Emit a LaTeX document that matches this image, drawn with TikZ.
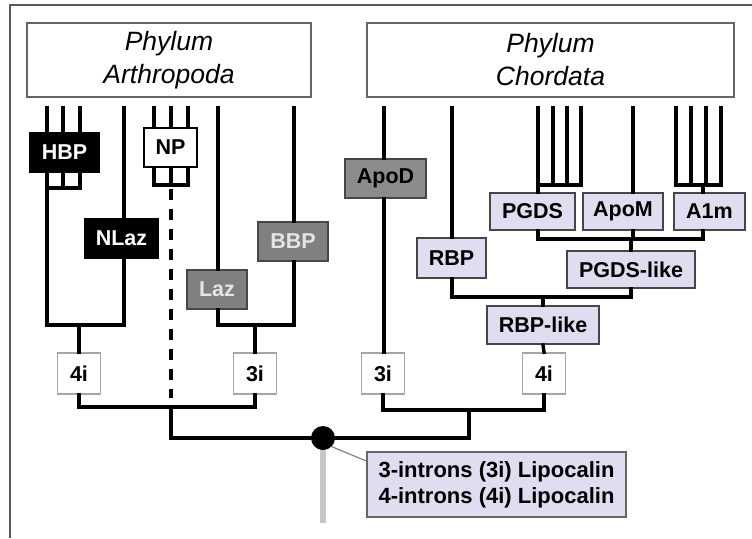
\documentclass[tikz,border=0pt]{standalone}
\usepackage{fontspec}
\setmainfont{Liberation Sans}
\usetikzlibrary{calc}
\definecolor{lav}{RGB}{222,222,240}
\definecolor{midgray}{RGB}{128,128,128}
\definecolor{apod}{RGB}{140,140,140}
\definecolor{bordergray}{RGB}{70,70,70}
\tikzset{
  lbl/.style={font=\fontsize{21.5}{24}\selectfont\bfseries, inner sep=0pt, line width=2.2pt},
  blackbox/.style={lbl, draw=black, fill=black, text=white},
  whitebox/.style={lbl, draw=black, fill=white, text=black},
  graybox/.style={lbl, draw=bordergray, fill=midgray, text=white!90!black},
  apodbox/.style={lbl, draw=bordergray, fill=apod, text=black},
  lavbox/.style={lbl, draw=bordergray, fill=lav, text=black},
  intronbox/.style={lbl, draw=gray!70, line width=1.5pt, fill=white, text=black, minimum width=43, minimum height=41},
  phylum/.style={draw=gray!80!black, line width=1.2pt, fill=white, align=center, font=\fontsize{26.5}{33}\selectfont\itshape, inner sep=0pt},
  branch/.style={line width=3.4pt, line cap=rect},
  dashbranch/.style={line width=3.4pt, dash pattern=on 11pt off 9pt},
}
\begin{document}
\begin{tikzpicture}[x=1pt,y=-1pt]
\useasboundingbox (0,0) rectangle (752,538);
% frame
\draw[line width=2pt, gray!70!black] (10,538) -- (10,5) -- (752,5);

% phylum boxes
\node[phylum, minimum width=284, minimum height=74] (arth) at (169,60) {Phylum\\Arthropoda};
\node[phylum, minimum width=367, minimum height=74] (chord) at (550.5,60) {Phylum\\Chordata};

% tips (top ends)
\foreach \n/\x in {h1/47,h2/63,h3/80,nl/124,n1/154,n2/171,n3/188,lz/218,bb/294,ad/384,rb/452,p1/538,p2/553,p3/567,p4/581,am/633,a1/676,a2/691,a3/706,a4/721}
  \coordinate (t\n) at (\x,108);

% arthropod boxes
\node[blackbox, minimum width=69, minimum height=39] (hbp) at (64.5,152.5) {HBP};
\node[blackbox, minimum width=73, minimum height=39] (nlaz) at (121.5,238.5) {NLaz};
\node[whitebox, minimum width=53, minimum height=39] (np) at (170.5,147.5) {NP};
\node[graybox, minimum width=60, minimum height=39] (laz) at (217,289.5) {Laz};
\node[graybox, minimum width=70, minimum height=39] (bbp) at (293,241.5) {BBP};
\node[intronbox] (a4i) at (79,373.5) {4i};
\node[intronbox] (a3i) at (255,373.5) {3i};

% chordate boxes
\node[apodbox, minimum width=81, minimum height=39] (apod) at (385.5,178.5) {ApoD};
\node[lavbox, minimum width=69, minimum height=40] (rbp) at (451.5,258) {RBP};
\node[lavbox, minimum width=85, minimum height=37] (pgds) at (532.5,211.5) {PGDS};
\node[lavbox, minimum width=80, minimum height=37] (apom) at (623,211.5) {ApoM};
\node[lavbox, minimum width=71, minimum height=37] (a1m) at (709.5,211.5) {A1m};
\node[lavbox, minimum width=128, minimum height=37] (pgdsl) at (631,269.5) {PGDS-like};
\node[lavbox, minimum width=112, minimum height=38] (rbpl) at (543,325) {RBP-like};
\node[intronbox] (c3i) at (383,373.5) {3i};
\node[intronbox] (c4i) at (544,373.5) {4i};

% root
\draw[line width=6pt, gray!45] (323,440) -- (323,523);
\node[circle, fill=black, minimum size=24, inner sep=0pt] (root) at (323,438) {};
\node[lbl, draw=gray!80!black, line width=1.5pt, fill=lav, minimum width=259, minimum height=65, align=left, font=\fontsize{22}{26}\selectfont\bfseries] (leg) at (496.5,484.5) {3-introns (3i) Lipocalin\\4-introns (4i) Lipocalin};
\draw[line width=1.2pt, gray] (root.south east) -- (leg.west |- 0,461);

% --- Arthropoda branches ---
\foreach \n in {h1,h2,h3} \draw[branch] (t\n) -- (t\n |- hbp.north);
\coordinate (hbj) at (47,188);
\foreach \n in {h1,h2,h3} \draw[branch] (t\n |- hbp.south) -- (t\n |- hbj);
\draw[branch] (th1 |- hbj) -- (th3 |- hbj);
\coordinate (j4a) at (47,325);
\draw[branch] (th1 |- hbj) -- (j4a) -- (tnl |- j4a) -- (tnl |- nlaz.south);
\draw[branch] (tnl) -- (tnl |- nlaz.north);
\draw[branch] (a4i.north) -- (a4i.north |- j4a);

\foreach \n in {n1,n2,n3} \draw[branch] (t\n) -- (t\n |- np.north);
\coordinate (npj) at (154,185);
\foreach \n in {n1,n2,n3} \draw[branch] (t\n |- np.south) -- (t\n |- npj);
\draw[branch] (tn1 |- npj) -- (tn3 |- npj);
\coordinate (ajoin) at (171,407);
\draw[dashbranch] (171,189) -- (171,398);

\draw[branch] (tlz) -- (tlz |- laz.north);
\draw[branch] (tbb) -- (tbb |- bbp.north);
\coordinate (j3a) at (218,325);
\draw[branch] (tlz |- laz.south) -- (j3a) -- (tbb |- j3a) -- (tbb |- bbp.south);
\draw[branch] (a3i.north) -- (a3i.north |- j3a);

\draw[branch] (a4i.south) -- (a4i.south |- ajoin) -- (a3i.south |- ajoin) -- (a3i.south);
\draw[branch] (ajoin) -- (ajoin |- root) -- (root);

% --- Chordata branches ---
\draw[branch] (tad) -- (tad |- apod.north);
\draw[branch] (tad |- apod.south) -- (tad |- c3i.north);
\draw[branch] (trb) -- (trb |- rbp.north);

\foreach \n in {p1,p2,p3,p4} \draw[branch] (t\n) -- (t\n |- 0,185);
\draw[branch] (tp1 |- 0,185) -- (tp4 |- 0,185);
\draw[branch] (tp1 |- 0,185) -- (tp1 |- pgds.north);
\draw[branch] (tam) -- (tam |- apom.north);
\foreach \n in {a1,a2,a3,a4} \draw[branch] (t\n) -- (t\n |- 0,185);
\draw[branch] (ta1 |- 0,185) -- (ta4 |- 0,185);
\coordinate (a1c) at (703,185);
\draw[branch] (a1c) -- (a1c |- a1m.north);

\coordinate (j1) at (538,239);
\draw[branch] (tp1 |- pgds.south) -- (j1) -- (a1c |- j1) -- (a1c |- a1m.south);
\draw[branch] (tam |- apom.south) -- (tam |- j1);
\draw[branch] (pgdsl.north) -- (pgdsl.north |- j1);

\coordinate (j2) at (452,297);
\draw[branch] (trb |- rbp.south) -- (j2) -- (pgdsl.south |- j2) -- (pgdsl.south);
\draw[branch] (rbpl.north) -- (rbpl.north |- j2);
\draw[branch] (rbpl.south) -- (c4i.north);

\coordinate (cjoin) at (469,410);
\draw[branch] (c3i.south) -- (c3i.south |- cjoin) -- (c4i.south |- cjoin) -- (c4i.south);
\draw[branch] (root) -- (cjoin |- root) -- (cjoin);
\end{tikzpicture}
\end{document}
